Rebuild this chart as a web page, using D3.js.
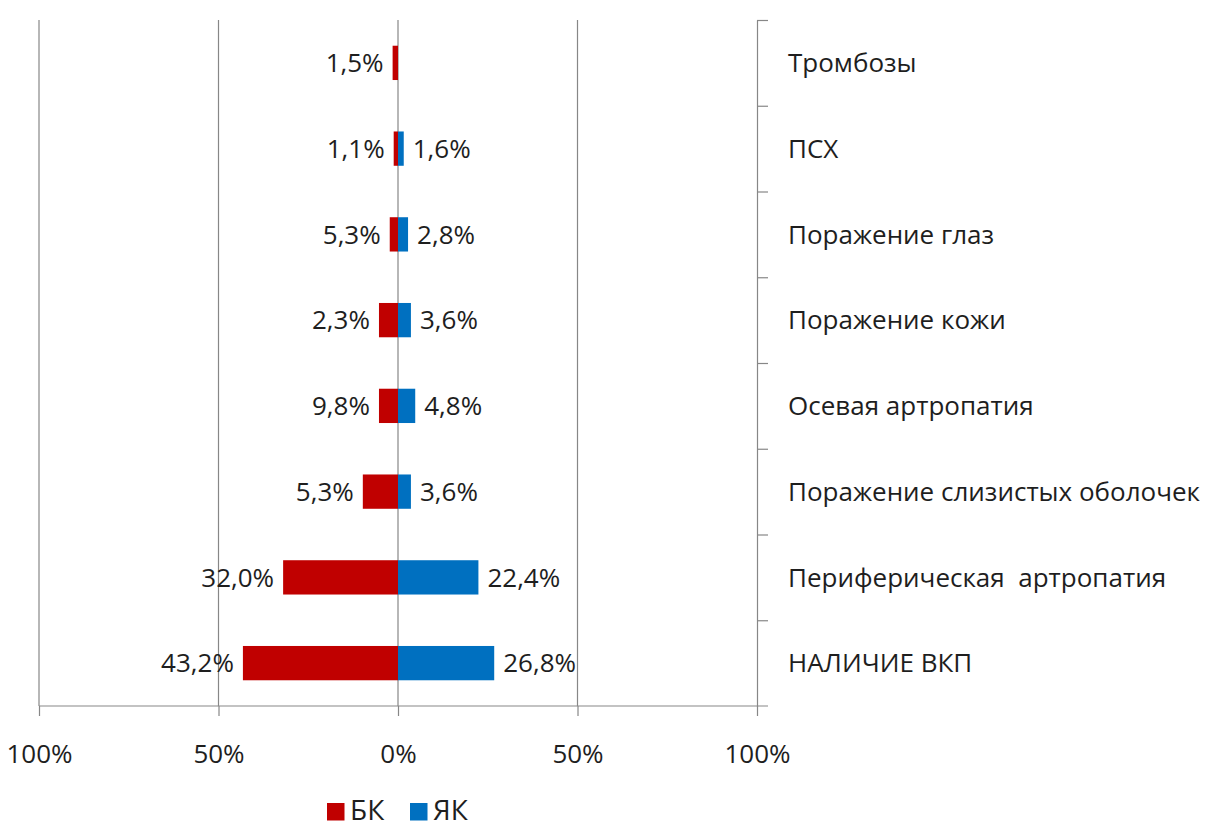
<!DOCTYPE html>
<html>
<head>
<meta charset="utf-8">
<script src="https://cdn.jsdelivr.net/npm/d3@7"></script>
<style>
  html, body { margin: 0; padding: 0; background: #fff; }
  svg { display: block; font-family: "Open Sans", sans-serif; }
</style>
</head>
<body>
<svg id="chart" width="1209" height="827"></svg>
<script>
const categories = ["Тромбозы", "ПСХ", "Поражение глаз", "Поражение кожи", "Осевая артропатия",
  "Поражение слизистых оболочек", "Периферическая  артропатия", "НАЛИЧИЕ ВКП"];
const seriesNames = ["БК", "ЯК"];
const bkValues = [1.5, 1.2, 2.3, 5.3, 5.3, 9.8, 32.0, 43.2];
const ykValues = [null, 1.6, 2.8, 3.6, 4.8, 3.6, 22.4, 26.8];
const bkLabels = ["1,5%", "1,1%", "5,3%", "2,3%", "9,8%", "5,3%", "32,0%", "43,2%"];
const ykLabels = [null, "1,6%", "2,8%", "3,6%", "4,8%", "3,6%", "22,4%", "26,8%"];
const xTicks = [-100, -50, 0, 50, 100];
const xTickLabels = ["100%", "50%", "0%", "50%", "100%"];
const colors = ["#C00000", "#0070C0"];

const svg = d3.select("#chart");
const plotTop = 20, plotBottom = 706, plotLeft = 39, plotRight = 757;
const gridColor = "#878787";
const textColor = "#1e1e1e";

const x = d3.scaleLinear().domain([-100, 100]).range([plotLeft, plotRight]);
const y = d3.scaleBand().domain(categories).range([plotTop, plotBottom]).paddingInner(0.6).paddingOuter(0.3);

// gridlines
svg.append("g").selectAll("line").data(xTicks.slice(0, 4)).join("line")
  .attr("x1", d => x(d)).attr("x2", d => x(d))
  .attr("y1", plotTop).attr("y2", plotBottom)
  .attr("stroke", gridColor).attr("stroke-width", 1.2);

// bars
const rows = categories.map((c, i) => ({c, bk: bkValues[i], yk: ykValues[i], bl: bkLabels[i], yl: ykLabels[i]}));
svg.append("g").selectAll("rect").data(rows).join("rect")
  .attr("x", d => x(-d.bk)).attr("width", d => x(0) - x(-d.bk))
  .attr("y", d => y(d.c)).attr("height", y.bandwidth())
  .attr("fill", colors[0]);
svg.append("g").selectAll("rect").data(rows.filter(d => d.yk != null)).join("rect")
  .attr("x", x(0)).attr("width", d => x(d.yk) - x(0))
  .attr("y", d => y(d.c)).attr("height", y.bandwidth())
  .attr("fill", colors[1]);

// data labels
svg.append("g").selectAll("text").data(rows).join("text")
  .attr("x", d => x(-d.bk) - 9).attr("y", d => y(d.c) + y.bandwidth() / 2)
  .attr("dy", "0.36em").attr("text-anchor", "end")
  .attr("font-size", 26).attr("fill", textColor)
  .text(d => d.bl);
svg.append("g").selectAll("text").data(rows.filter(d => d.yk != null)).join("text")
  .attr("x", d => x(d.yk) + 9).attr("y", d => y(d.c) + y.bandwidth() / 2)
  .attr("dy", "0.36em").attr("text-anchor", "start")
  .attr("font-size", 26).attr("fill", textColor)
  .text(d => d.yl);

// bottom axis
const xAxis = svg.append("g").attr("transform", `translate(0,${plotBottom})`)
  .call(d3.axisBottom(x).tickValues(xTicks).tickFormat((d, i) => xTickLabels[i])
    .tickSize(10).tickSizeOuter(0).tickPadding(29));
xAxis.select(".domain").remove();
xAxis.selectAll(".tick line").attr("stroke", gridColor).attr("stroke-width", 1.2);
xAxis.selectAll(".tick text").attr("font-size", 26).attr("fill", textColor)
  .attr("font-family", "'Open Sans', sans-serif");
svg.append("line").attr("x1", x(-100)).attr("x2", x(100) + 11)
  .attr("y1", plotBottom).attr("y2", plotBottom).attr("stroke", gridColor).attr("stroke-width", 1.2);

// right category axis (boundaries)
const yb = d3.scaleLinear().domain([0, categories.length]).range([plotTop, plotBottom]);
const yAxis = svg.append("g").attr("transform", `translate(${plotRight},0)`)
  .call(d3.axisRight(yb).ticks(categories.length).tickFormat("").tickSize(11).tickSizeOuter(0));
yAxis.select(".domain").attr("stroke", gridColor).attr("stroke-width", 1.2);
yAxis.selectAll(".tick line").attr("stroke", gridColor).attr("stroke-width", 1.2);
yAxis.selectAll(".tick").filter(d => d === categories.length).remove();

// category labels
svg.append("g").selectAll("text").data(categories).join("text")
  .attr("x", 788).attr("y", d => y(d) + y.bandwidth() / 2)
  .attr("dy", "0.36em").attr("font-size", 26).attr("fill", textColor)
  .attr("xml:space", "preserve").style("white-space", "pre")
  .text(d => d);

// legend
const lg = svg.append("g");
const legendX = [327, 410];
seriesNames.forEach((name, i) => {
  lg.append("rect").attr("x", legendX[i]).attr("y", 803).attr("width", 17.5).attr("height", 17.5).attr("fill", colors[i]);
  lg.append("text").attr("x", legendX[i] + 23).attr("y", 820).attr("font-size", 28)
    .attr("fill", textColor).text(name);
});
</script>
</body>
</html>
